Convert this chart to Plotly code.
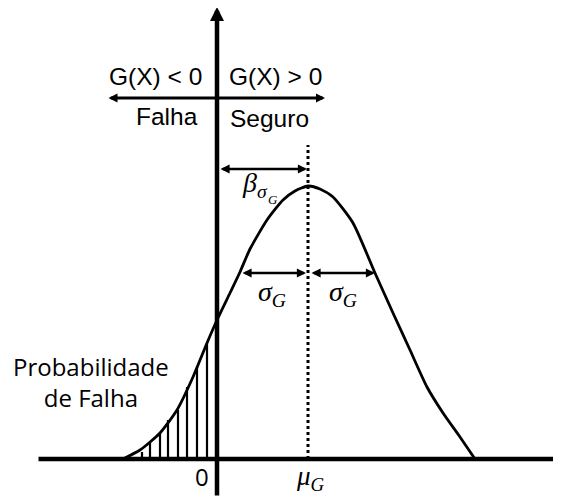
import plotly.graph_objects as go

# curve of G(X), horizontal axis at y=0, vertical axis at x=0
curve_x = [-94, -77, -57, -40, -24, -10, 0, 13, 23, 33, 50, 66, 78, 91,
           103, 116, 136, 158, 176, 193, 210, 226, 243, 258]
curve_y = [0, 9, 26, 49, 82, 116, 139, 166, 187, 210, 239, 259, 268, 273,
           270, 262, 236, 186, 146, 109, 72, 46, 22, 0]

# hatching under the failure region
hatch_x = [-75, -67, -57, -49, -39, -30, -20, -10]
hatch_top = [7, 16, 26, 39, 49, 72, 92, 116]

mu_g = 91
sigma_g = 67
mu_line_top = 314

top_labels = ["G(X) < 0", "G(X) > 0"]
side_labels = ["Falha", "Seguro"]

# the page body adds an 8px margin, so the figure is 8px smaller and shifted
X_RANGE = [-209, 344]
Y_RANGE = [-38, 451]

fig = go.Figure()

hx, hy = [], []
for x, t in zip(hatch_x, hatch_top):
    hx += [x, x, None]
    hy += [0, t, None]
fig.add_trace(go.Scatter(x=hx, y=hy, mode="lines",
                         line=dict(color="black", width=2.2), hoverinfo="none"))

fig.add_trace(go.Scatter(x=curve_x, y=curve_y, mode="lines",
                         line=dict(color="black", width=2.8, shape="spline", smoothing=0.6),
                         hoverinfo="none"))

fig.add_trace(go.Scatter(x=[mu_g, mu_g], y=[0, mu_line_top], mode="lines",
                         line=dict(color="black", width=3, dash="3px,3px"),
                         hoverinfo="none"))


def arrow(x0, y0, x1, y1, width, size, both=False):
    fig.add_annotation(
        x=x1, y=y1, ax=x0, ay=y0, xref="x", yref="y", axref="x", ayref="y",
        text="", showarrow=True, arrowhead=2, arrowsize=size, arrowwidth=width,
        arrowcolor="black", standoff=0, startstandoff=0,
        arrowside="end+start" if both else "end",
        startarrowhead=2, startarrowsize=size,
    )


# main axes
arrow(0, Y_RANGE[0], 0, 452, 4.5, 0.62)
arrow(-180, 0, 355, 0, 4.5, 0.62)

# region arrow at top
arrow(-110, 361, 108, 361, 3, 0.6, both=True)

# beta and sigma arrows
arrow(2, 290, mu_g - 1, 290, 2.6, 0.7, both=True)
arrow(mu_g - sigma_g, 186, mu_g - 2, 186, 2.6, 0.7, both=True)
arrow(mu_g + 2, 186, mu_g + sigma_g, 186, 2.6, 0.7, both=True)


def label(x, y, text, size, family="Liberation Sans, Arial", **kw):
    fig.add_annotation(x=x, y=y, xref="x", yref="y", text=text, showarrow=False,
                       xanchor="center", yanchor="middle",
                       font=dict(family=family, size=size, color="black"), **kw)


label(-62, 383, top_labels[0], 24.5)
label(58, 383, top_labels[1], 24.5)
label(-50, 343, side_labels[0], 24.5)
label(52, 341, side_labels[1], 24.5)

label(-126, 77, "Probabilidade<br>de Falha", 24, family="Open Sans")
label(-15, -17, "0", 24, family="Open Sans")

serif = "Liberation Serif, Times New Roman"
label(mu_g + 2, -19, "<i>μ</i><sub><i>G</i></sub>", 27, family=serif)
label(mu_g - sigma_g / 2 - 3, 166, "<i>σ</i><sub><i>G</i></sub>", 28, family=serif)
label(mu_g + sigma_g / 2 + 1, 166, "<i>σ</i><sub><i>G</i></sub>", 28, family=serif)
label(38, 275, "<i>β</i><sub><i>σ</i></sub>", 28, family=serif)
label(56, 260, "<i>G</i>", 13, family=serif)

fig.update_layout(
    width=553, height=489,
    margin=dict(l=0, r=0, t=0, b=0),
    plot_bgcolor="white", paper_bgcolor="white",
    showlegend=False,
    xaxis=dict(range=X_RANGE, visible=False, fixedrange=True),
    yaxis=dict(range=Y_RANGE, visible=False, fixedrange=True),
)

fig.write_html("out.html")
